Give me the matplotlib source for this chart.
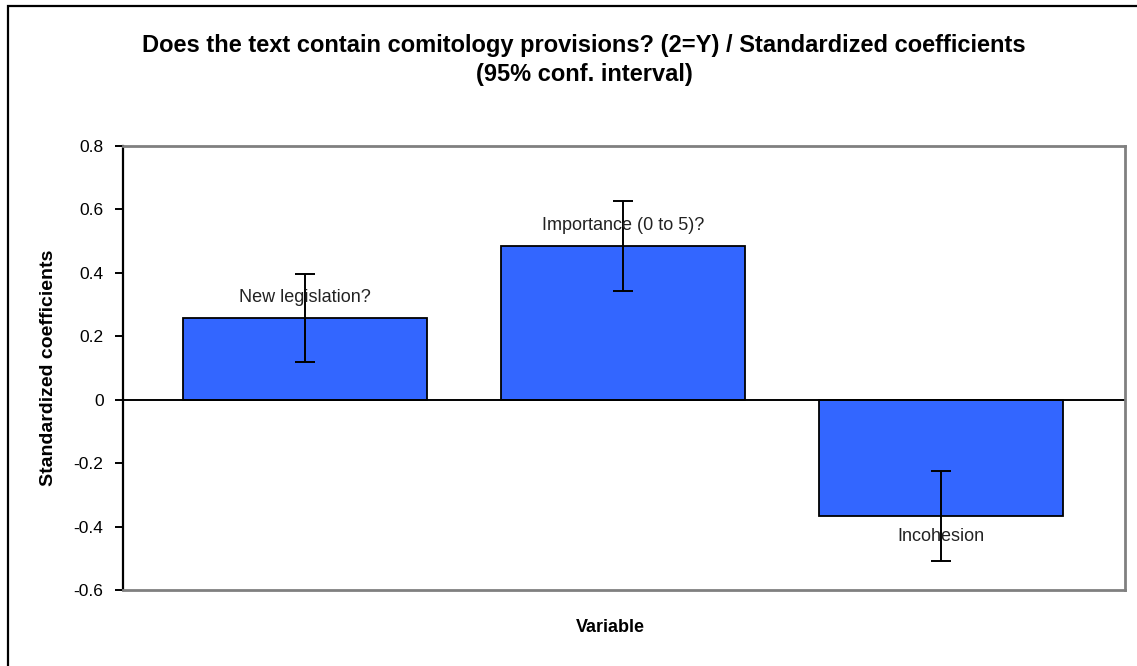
import matplotlib
matplotlib.use("Agg")
import matplotlib.pyplot as plt
from matplotlib.patches import Rectangle

plt.rcParams['font.family'] = ['Liberation Sans', 'DejaVu Sans']

# Standardized coefficients with 95% confidence half-widths
variables = ['New legislation?', 'Importance (0 to 5)?', 'Incohesion']
coefficients = [0.258, 0.484, -0.368]
ci_half = [0.138, 0.142, 0.142]
y_ticks = [-0.6, -0.4, -0.2, 0, 0.2, 0.4, 0.6, 0.8]


def create_coefficient_chart():
    fig = plt.figure(figsize=(11.37, 6.66), dpi=100)
    W, H = 1137, 666
    ax = fig.add_axes([123 / W, 1 - 590 / H, (1125 - 123) / W, (590 - 146) / H])

    # outer chart frame (left/top visible, rest runs off the image)
    fig.patches.append(Rectangle((8 / W, -0.1), 1.2, 1 - 6 / H + 0.1,
                                 transform=fig.transFigure, fill=False,
                                 edgecolor='black', linewidth=1.6))

    x = range(len(variables))
    ax.bar(x, coefficients, width=0.767, color='#3366ff',
           edgecolor='black', linewidth=1.3, zorder=2)
    ax.errorbar(x, coefficients, yerr=ci_half, fmt='none', ecolor='black',
                elinewidth=1.4, capsize=7, capthick=1.4, zorder=3)

    # data labels
    for xi, v in zip(x, coefficients):
        if v >= 0:
            ax.text(xi, v + 0.065, variables[xi], ha='center', va='center',
                    fontsize=13, color='#222222', zorder=4)
        else:
            ax.text(xi, v - 0.064, variables[xi], ha='center', va='center',
                    fontsize=13, color='#222222', zorder=4)

    ax.axhline(0, color='black', linewidth=1.4, zorder=2)

    ax.set_xlim(-0.572, 2.579)
    ax.set_ylim(-0.6, 0.8)
    ax.set_yticks(y_ticks)
    ax.set_yticklabels(['-0.6', '-0.4', '-0.2', '0', '0.2', '0.4', '0.6', '0.8'])
    ax.set_xticks([])
    ax.tick_params(axis='y', direction='out', length=6, width=1.4,
                   labelsize=12.5, pad=8)

    for side in ['top', 'right', 'bottom']:
        ax.spines[side].set_color('#808080')
        ax.spines[side].set_linewidth(2)
    ax.spines['left'].set_color('black')
    ax.spines['left'].set_linewidth(1.6)

    ax.set_ylabel('Standardized coefficients', fontsize=14, fontweight='bold')
    ax.yaxis.set_label_coords((57 - 123) / (1125 - 123), 0.5)
    ax.set_xlabel('Variable', fontsize=13, fontweight='bold')
    ax.xaxis.set_label_coords((610 - 123) / (1125 - 123), -(619 - 590) / (590 - 146))

    fig.text(584 / W, 1 - 60 / H,
             'Does the text contain comitology provisions? (2=Y) / Standardized coefficients\n(95% conf. interval)',
             ha='center', va='center', fontsize=17, fontweight='bold',
             linespacing=1.3)

    fig.savefig('out.png', dpi=100)


create_coefficient_chart()
